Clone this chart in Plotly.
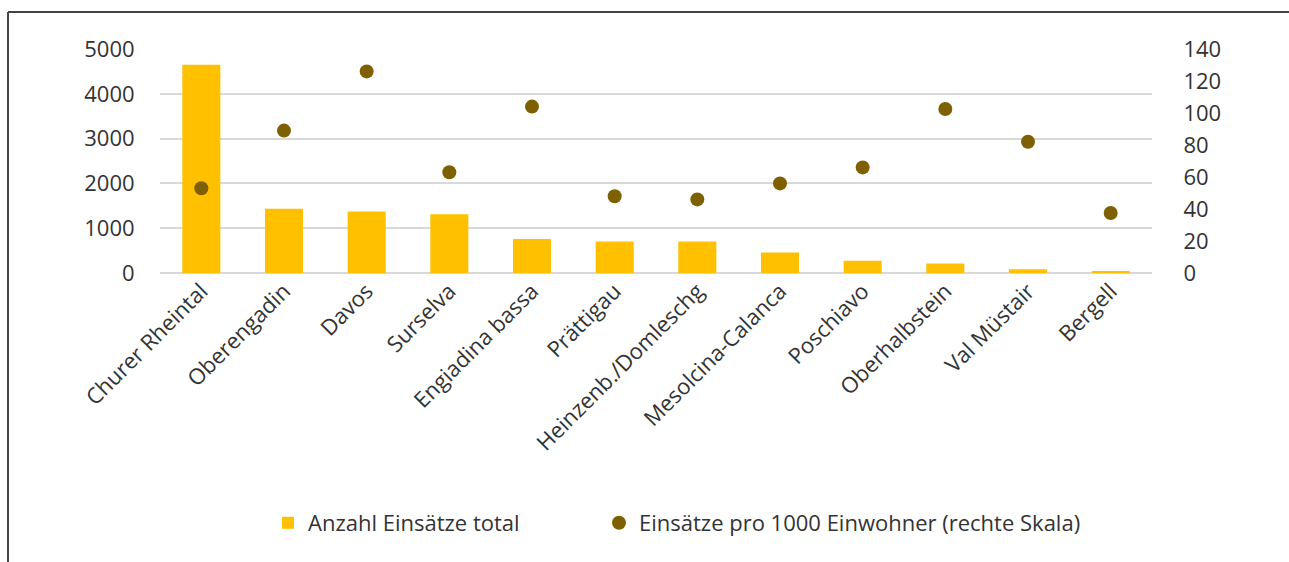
import plotly.graph_objects as go

# Regions of Graubünden
regions = [
    "Churer Rheintal", "Oberengadin", "Davos", "Surselva", "Engiadina bassa",
    "Prättigau", "Heinzenb./Domleschg", "Mesolcina-Calanca", "Poschiavo",
    "Oberhalbstein", "Val Müstair", "Bergell",
]
# Total number of operations (left scale)
einsaetze_total = [4650, 1435, 1375, 1310, 760, 705, 705, 455, 272, 210, 82, 30]
# Operations per 1000 inhabitants (right scale)
einsaetze_pro_1000 = [53, 89, 126, 63, 104, 48, 46, 56, 66, 102.5, 82, 37.5]

left_ticks = [0, 1000, 2000, 3000, 4000, 5000]
right_ticks = [0, 20, 40, 60, 80, 100, 120, 140]

BAR_COLOR = "#FFC000"
DOT_COLOR = "#7F6000"
TEXT_COLOR = "#333333"
GRID_COLOR = "#D9D9D9"
FONT = "Open Sans"

W, H = 1289, 562
L, R, T, B = 160, 137, 49, 289
pw, ph = W - L - R, H - T - B


def px_x(x):
    return (x - L) / pw


def px_y(y):
    return (H - B - y) / ph


fig = go.Figure()
fig.add_trace(go.Bar(
    x=regions, y=einsaetze_total, name="Anzahl Einsätze total",
    marker=dict(color=BAR_COLOR, line=dict(width=0)),
    legend="legend",
))
fig.add_trace(go.Scatter(
    x=regions, y=einsaetze_pro_1000, yaxis="y2", mode="markers",
    name="Einsätze pro 1000 Einwohner (rechte Skala)",
    marker=dict(color=DOT_COLOR, size=14, line=dict(width=0)),
    legend="legend2",
))

legend_font = dict(family=FONT, size=22, color=TEXT_COLOR)
fig.update_layout(
    width=W, height=H,
    margin=dict(l=L, r=R, t=T, b=B, autoexpand=False),
    paper_bgcolor="white", plot_bgcolor="white",
    font=dict(family=FONT, size=22, color=TEXT_COLOR),
    bargap=0.54,
    showlegend=True,
    legend=dict(
        orientation="h", x=px_x(268), xanchor="left",
        y=px_y(523), yanchor="middle", font=legend_font,
        bgcolor="rgba(0,0,0,0)",
    ),
    legend2=dict(
        orientation="h", x=px_x(599), xanchor="left",
        y=px_y(523), yanchor="middle", font=legend_font,
        bgcolor="rgba(0,0,0,0)",
    ),
    xaxis=dict(
        range=[-0.5, len(regions) - 0.5], automargin=False,
        tickangle=-45, showgrid=False, showline=False, zeroline=False,
        ticks="", tickfont=dict(size=22),
    ),
    yaxis=dict(
        range=[0, 5000], tickvals=left_ticks, showgrid=True, automargin=False,
        gridcolor=GRID_COLOR, gridwidth=2, zeroline=True,
        zerolinecolor=GRID_COLOR, zerolinewidth=2, showline=False,
        ticks="outside", ticklen=20, tickcolor="rgba(0,0,0,0)",
        tickfont=dict(size=22),
    ),
    yaxis2=dict(
        range=[0, 140], tickvals=right_ticks, overlaying="y", side="right",
        showgrid=False, zeroline=False, showline=False, automargin=False,
        ticks="outside", ticklen=26, tickcolor="rgba(0,0,0,0)",
        tickfont=dict(size=22),
    ),
)

# Outer frame: top and left border lines
frame = dict(color="#4A4440", width=2)
fig.add_shape(type="line", xref="paper", yref="paper",
              x0=px_x(8), x1=px_x(W + 5), y0=px_y(12), y1=px_y(12), line=frame)
fig.add_shape(type="line", xref="paper", yref="paper",
              x0=px_x(8), x1=px_x(8), y0=px_y(12), y1=px_y(H + 5), line=frame)

fig.write_html("out.html")
